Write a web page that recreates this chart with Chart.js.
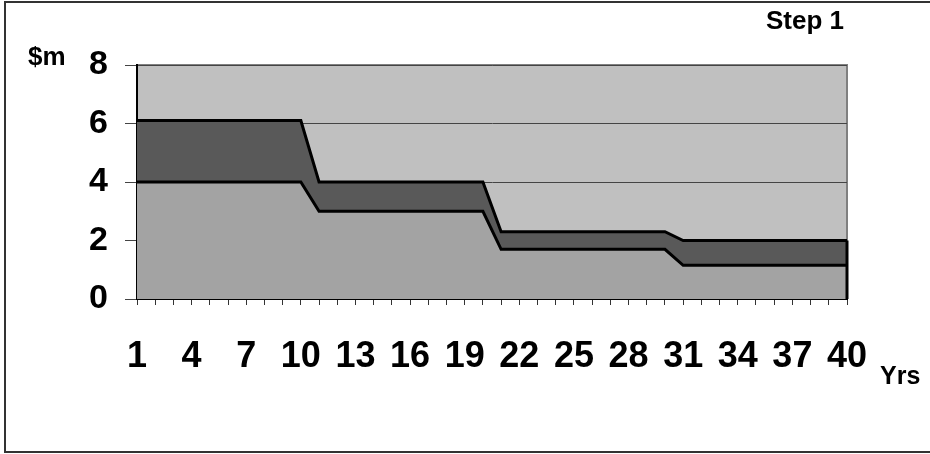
<!DOCTYPE html>
<html>
<head>
<meta charset="utf-8">
<script src="https://cdn.jsdelivr.net/npm/chart.js@4/dist/chart.umd.min.js"></script>
<style>
  html, body { margin: 0; padding: 0; background: #fff; }
  #wrap { position: relative; width: 930px; height: 454px; }
</style>
</head>
<body>
<div id="wrap"><canvas id="c" width="930" height="454"></canvas></div>
<script>
// Years along the horizontal axis
const years = [1, 2, 3, 4, 5, 6, 7, 8, 9, 10,
               11, 12, 13, 14, 15, 16, 17, 18, 19, 20,
               21, 22, 23, 24, 25, 26, 27, 28, 29, 30,
               31, 32, 33, 34, 35, 36, 37, 38, 39, 40];

// Lower band ($m)
const baseValues = [4.0, 4.0, 4.0, 4.0, 4.0, 4.0, 4.0, 4.0, 4.0, 4.0,
                    3.0, 3.0, 3.0, 3.0, 3.0, 3.0, 3.0, 3.0, 3.0, 3.0,
                    1.7, 1.7, 1.7, 1.7, 1.7, 1.7, 1.7, 1.7, 1.7, 1.7,
                    1.15, 1.15, 1.15, 1.15, 1.15, 1.15, 1.15, 1.15, 1.15, 1.15];

// Upper band stacked on top of the lower one ($m)
const topValues = [2.1, 2.1, 2.1, 2.1, 2.1, 2.1, 2.1, 2.1, 2.1, 2.1,
                   1.0, 1.0, 1.0, 1.0, 1.0, 1.0, 1.0, 1.0, 1.0, 1.0,
                   0.6, 0.6, 0.6, 0.6, 0.6, 0.6, 0.6, 0.6, 0.6, 0.6,
                   0.85, 0.85, 0.85, 0.85, 0.85, 0.85, 0.85, 0.85, 0.85, 0.85];

// Value axis range and step
const yMin = 0;
const yMax = 8;
const yStep = 2;

const FONT = '"Liberation Sans", Arial, Helvetica, sans-serif';

// Grey plot background and frame, outer border, and free-standing captions
const decor = {
  id: 'decor',
  beforeDraw(chart) {
    const { ctx, chartArea: a } = chart;
    ctx.save();
    ctx.fillStyle = '#c0c0c0';
    ctx.fillRect(a.left, a.top, a.right - a.left, a.bottom - a.top);
    ctx.strokeStyle = '#808080';
    ctx.lineWidth = 2;
    ctx.beginPath();
    ctx.moveTo(a.left, a.top);
    ctx.lineTo(a.right, a.top);
    ctx.lineTo(a.right, a.bottom);
    ctx.stroke();
    ctx.restore();
  },
  afterDatasetsDraw(chart) {
    // close the stacked areas along the right edge
    const { ctx, scales: { x, y } } = chart;
    const last = years.length - 1;
    const px = x.getPixelForValue(last);
    const total = baseValues[last] + topValues[last];
    ctx.save();
    ctx.strokeStyle = '#000';
    ctx.lineWidth = 3;
    ctx.beginPath();
    ctx.moveTo(px, y.getPixelForValue(total));
    ctx.lineTo(px, y.getPixelForValue(0));
    ctx.stroke();
    ctx.restore();
  },
  afterDraw(chart) {
    const { ctx } = chart;
    ctx.save();
    ctx.strokeStyle = '#333';
    ctx.lineWidth = 2;
    ctx.strokeRect(5, 2, 940, 450);
    ctx.fillStyle = '#000';
    ctx.textBaseline = 'alphabetic';
    ctx.textAlign = 'left';
    ctx.font = 'bold 26px ' + FONT;
    ctx.fillText('$m', 28, 65);
    ctx.fillText('Step 1', 766, 29);
    ctx.font = 'bold 25px ' + FONT;
    ctx.fillText('Yrs', 880, 384);
    ctx.restore();
  }
};

new Chart(document.getElementById('c'), {
  type: 'line',
  data: {
    labels: years,
    datasets: [
      {
        label: 'Lower',
        data: baseValues,
        backgroundColor: '#a3a3a3',
        borderColor: '#000',
        borderWidth: 3,
        fill: 'origin',
        pointRadius: 0,
        tension: 0
      },
      {
        label: 'Upper',
        data: topValues,
        backgroundColor: '#595959',
        borderColor: '#000',
        borderWidth: 3,
        fill: '-1',
        pointRadius: 0,
        tension: 0
      }
    ]
  },
  options: {
    responsive: false,
    animation: false,
    devicePixelRatio: 1,
    layout: { padding: { top: 65, right: 83, bottom: 0, left: 0 } },
    plugins: {
      legend: { display: false },
      tooltip: { enabled: false },
      title: { display: false }
    },
    scales: {
      x: {
        type: 'category',
        offset: false,
        grid: {
          display: true,
          drawOnChartArea: false,
          drawTicks: true,
          tickLength: 6,
          color: '#333',
          lineWidth: 1
        },
        border: { display: true, color: '#000', width: 2 },
        ticks: {
          autoSkip: false,
          maxRotation: 0,
          minRotation: 0,
          padding: 30,
          color: '#000',
          font: { family: FONT, size: 36, weight: 'bold' },
          callback: (v, i) => (i % 3 === 0 ? String(years[i]) : '')
        },
        afterFit: s => { s.height = 155; }
      },
      y: {
        stacked: true,
        min: yMin,
        max: yMax,
        grid: {
          color: '#444',
          lineWidth: 1,
          tickLength: 12,
          drawTicks: true
        },
        border: { display: true, color: '#000', width: 2 },
        ticks: {
          stepSize: yStep,
          padding: 17,
          color: '#000',
          font: { family: FONT, size: 34, weight: 'bold' }
        },
        afterFit: s => { s.width = 137; }
      }
    }
  },
  plugins: [decor]
});
</script>
</body>
</html>
